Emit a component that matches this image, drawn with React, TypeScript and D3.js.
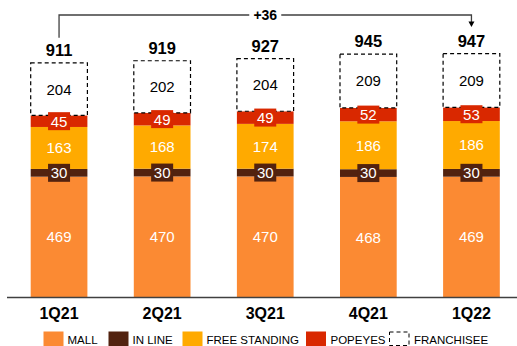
import React from "react";
import * as d3 from "d3";

const quarters = ["1Q21", "2Q21", "3Q21", "4Q21", "1Q22"];
const mall = [469, 470, 470, 468, 469];
const inLine = [30, 30, 30, 30, 30];
const freeStanding = [163, 168, 174, 186, 186];
const popeyes = [45, 49, 49, 52, 53];
const franchisee = [204, 202, 204, 209, 209];
const totals = [911, 919, 927, 945, 947];
const changeLabel = "+36";

const seriesNames = ["MALL", "IN LINE", "FREE STANDING", "POPEYES", "FRANCHISEE"];
const seriesValues = [mall, inLine, freeStanding, popeyes, franchisee];
const colors = ["#FB8A33", "#52220F", "#FFAA00", "#D92800", "#FFFFFF"];
const labelBox = [false, true, false, true, false];
const textColors = ["#fff", "#fff", "#fff", "#fff", "#000"];

const W = 517;
const H = 346;
const FONT = "'Liberation Sans', Arial, sans-serif";

export default function App() {
  const x = d3
    .scaleBand<string>()
    .domain(quarters)
    .range([7.5, 523])
    .paddingInner(0.45)
    .paddingOuter(0.225);
  const y = d3.scaleLinear().domain([0, 1000]).range([297.5, 297.5 - 257.6]);

  const rows = quarters.map((q, i) => {
    const r: any = { q };
    seriesNames.forEach((s, k) => (r[s] = seriesValues[k][i]));
    return r;
  });
  const stacked = d3.stack<any>().keys(seriesNames)(rows);

  const bw = x.bandwidth();
  const cx = (q: string) => (x(q) as number) + bw / 2;
  const x0 = cx(quarters[0]);
  const x1 = cx(quarters[quarters.length - 1]);
  const bracketY = 15;
  const midX = (x0 + x1) / 2;

  const legendSwatchX = [43.5, 108.5, 182.5, 306, 389.5];
  const legendTextX = [67.5, 132.5, 206.5, 330.5, 414];

  return (
    <svg
      width={W}
      height={H}
      style={{ position: "absolute", left: 0, top: 0, background: "#fff" }}
      fontFamily={FONT}
    >
      {/* stacked bars */}
      {stacked.map((layer, k) => (
        <g key={layer.key}>
          {layer.map((d, i) => {
            const q = quarters[i];
            const top = y(d[1]);
            const bottom = y(d[0]);
            if (k === 4) {
              return (
                <rect
                  key={q}
                  x={x(q)}
                  y={top}
                  width={bw}
                  height={bottom - top}
                  fill="#fff"
                  stroke="#000"
                  strokeWidth={1.2}
                  strokeDasharray="4,3"
                />
              );
            }
            return (
              <rect
                key={q}
                x={x(q)}
                y={top}
                width={bw}
                height={bottom - top}
                fill={colors[k]}
              />
            );
          })}
        </g>
      ))}

      {/* segment labels */}
      {stacked.map((layer, k) => (
        <g key={"l" + layer.key}>
          {layer.map((d, i) => {
            const q = quarters[i];
            const cy = (y(d[0]) + y(d[1])) / 2;
            return (
              <g key={q}>
                {labelBox[k] && (
                  <rect x={cx(q) - 11} y={cy - 9} width={22} height={18} fill={colors[k]} />
                )}
                <text
                  x={cx(q)}
                  y={cy}
                  dy="0.36em"
                  textAnchor="middle"
                  fontSize={15}
                  fill={textColors[k]}
                >
                  {seriesValues[k][i]}
                </text>
              </g>
            );
          })}
        </g>
      ))}

      {/* totals */}
      {quarters.map((q, i) => (
        <text
          key={"t" + q}
          x={cx(q)}
          y={y(totals[i]) - 7}
          textAnchor="middle"
          fontSize={16.5}
          fontWeight="bold"
          fill="#000"
        >
          {totals[i]}
        </text>
      ))}

      {/* axis */}
      <line x1={7} x2={517} y1={297.5} y2={297.5} stroke="#404040" strokeWidth={1.5} />
      {quarters.map((q) => (
        <text
          key={"c" + q}
          x={cx(q)}
          y={319}
          textAnchor="middle"
          fontSize={16}
          fontWeight="bold"
          fill="#000"
        >
          {q}
        </text>
      ))}

      {/* bracket */}
      <path
        d={`M${x0},${y(totals[0]) - 25}V${bracketY}H${midX - 16}M${midX + 16},${bracketY}H${x1}V${22}`}
        fill="none"
        stroke="#404040"
        strokeWidth={1.3}
      />
      <path d={`M${x1 - 3},${21.5}L${x1 + 3},${21.5}L${x1},${27}Z`} fill="#000" />
      <text
        x={midX}
        y={bracketY}
        dy="0.36em"
        textAnchor="middle"
        fontSize={14}
        fontWeight="bold"
        fill="#000"
      >
        {changeLabel}
      </text>

      {/* legend */}
      {seriesNames.map((s, k) => (
        <g key={"lg" + s}>
          {k === 4 ? (
            <rect
              x={legendSwatchX[k]}
              y={332}
              width={19.5}
              height={13.5}
              fill="#fff"
              stroke="#000"
              strokeWidth={1}
              strokeDasharray="4,3"
            />
          ) : (
            <rect x={legendSwatchX[k]} y={331.5} width={20} height={14.5} fill={colors[k]} />
          )}
          <text x={legendTextX[k]} y={344} fontSize={11.5} fill="#000">
            {s}
          </text>
        </g>
      ))}
    </svg>
  );
}
